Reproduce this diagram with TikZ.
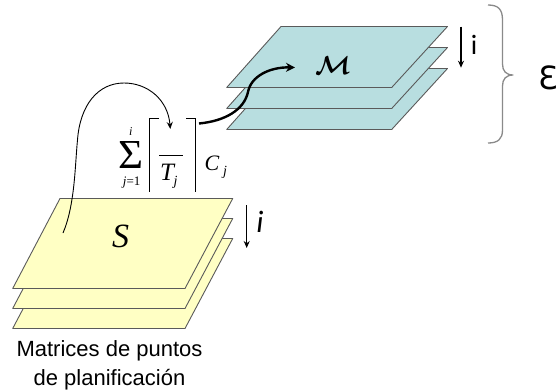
\RequirePackage{fix-cm}
\documentclass[tikz,border=0pt]{standalone}
\usepackage{fontspec}
\usetikzlibrary{arrows.meta}
\newfontfamily\arialf{Liberation Sans}
\newfontfamily\timesf{Liberation Serif}
\newfontfamily\calf{Carlito}
\newfontfamily\dejaf{DejaVu Sans}
\definecolor{planeY}{HTML}{FFFFC4}
\definecolor{planeB}{HTML}{B8DEE0}
\definecolor{edgeG}{HTML}{5A5A5A}
\definecolor{braceG}{HTML}{8A8A8A}
\begin{document}
\begin{tikzpicture}[x=1pt,y=-1pt,
  plane/.style={draw=edgeG, line width=0.9pt, line join=round},
  ylw/.style={plane, fill=planeY},
  blu/.style={plane, fill=planeB},
  lbl/.style={inner sep=0pt, outer sep=0pt},
  thinarrow/.style={line width=0.9pt, -{Stealth[length=7pt,width=6pt]}},
  thickarrow/.style={line width=2.4pt, -{Stealth[length=9pt,width=9pt]}},
  downarrow/.style={line width=1.1pt, -{Stealth[length=7pt,width=6pt]}},
  bracket/.style={line width=0.9pt},
  bracestyle/.style={draw=braceG, line width=1.3pt},
]
\useasboundingbox (0,0) rectangle (558,389);
% yellow planes
\foreach \k in {2,1,0} {
  \draw[ylw] (60,198.5+20*\k) -- (232.7,198.5+20*\k) -- (185,288.5+20*\k) -- (12.7,288.5+20*\k) -- cycle;
}
% blue planes
\foreach \k in {2,1,0} {
  \draw[blu] (281,26.5+21*\k) -- (447.5,26.5+21*\k) -- (391.7,87.5+21*\k) -- (226.7,87.5+21*\k) -- cycle;
}
% plane labels
\node[lbl, font=\timesf\itshape\fontsize{34}{34}\selectfont] (S) at (120.5,236) {S};
\node[lbl, font=\fontsize{26}{26}\selectfont\boldmath] (M) at (333,66) {$\mathcal{M}$};
% formula
\node[lbl] (sig) at (130.5,154.5) {\resizebox{25pt}{27pt}{\timesf Σ}};
\node[lbl, anchor=base, font=\timesf\itshape\fontsize{12}{12}\selectfont] (up) at (130.7,135.5) {i};
\node[lbl, anchor=base, font=\timesf\fontsize{13}{13}\selectfont] (lo) at (131.7,185) {\textit{j}=1};
\draw[bracket] (159,118) -- (149,118) -- (149,192);
\draw[bracket] (186,118) -- (195,118) -- (195,192);
\draw[bracket] (159.3,155) -- (183.3,155);
\node[lbl, anchor=base west, font=\timesf\itshape\fontsize{25}{25}\selectfont] (T) at (160,180) {T};
\node[lbl, anchor=base west, font=\timesf\itshape\fontsize{14}{14}\selectfont] (Tj) at (173.5,185.5) {j};
\node[lbl, anchor=base west, font=\timesf\itshape\fontsize{22}{22}\selectfont] (C) at (204.5,170) {C};
\node[lbl, anchor=base west, font=\timesf\itshape\fontsize{14}{14}\selectfont] (Cj) at (223,175.5) {j};
% connectors
\coordinate (s1) at (63,233);
\coordinate (num) at (170.3,129);
\draw[thinarrow] (s1) .. controls (75,205) and (75,165) .. (77.5,140) .. controls (80,105) and (98,83) .. (124,83) .. controls (148,83) and (168,100) .. (num);
\coordinate (rb) at (199,123.5);
\coordinate (mt) at (295,67.5);
\draw[thickarrow] (rb) .. controls (225,121) and (244,110) .. (248,92) .. controls (251,76) and (270,67) .. (mt);
% index arrows
\coordinate (ya1) at (246.7,205);
\coordinate (ya2) at (246.7,248);
\draw[downarrow] (ya1) -- (ya2);
\node[lbl, anchor=base, font=\calf\itshape\fontsize{31}{31}\selectfont] (iy) at (260,232) {i};
\coordinate (ba1) at (461,26.7);
\coordinate (ba2) at (461,67.7);
\draw[downarrow] (ba1) -- (ba2);
\node[lbl, anchor=base, font=\calf\fontsize{28}{28}\selectfont] (ib) at (474,54) {i};
% brace
\draw[bracestyle] (488,5) .. controls (498,5) and (502.5,9) .. (502.5,20) -- (502.5,64) .. controls (502.5,71) and (506,75) .. (513.3,75) .. controls (506,75) and (502.5,79) .. (502.5,86) -- (502.5,130) .. controls (502.5,139) and (498,143) .. (488,143);
\node[lbl, anchor=base west, font=\dejaf\fontsize{32}{32}\selectfont] (E) at (538,89) {Ɛ};
% caption
\node[lbl, anchor=north, align=center, font=\arialf\fontsize{22}{29}\selectfont] (cap) at (109.5,340.5) {Matrices de puntos\\de planificación};
\end{tikzpicture}
\end{document}
